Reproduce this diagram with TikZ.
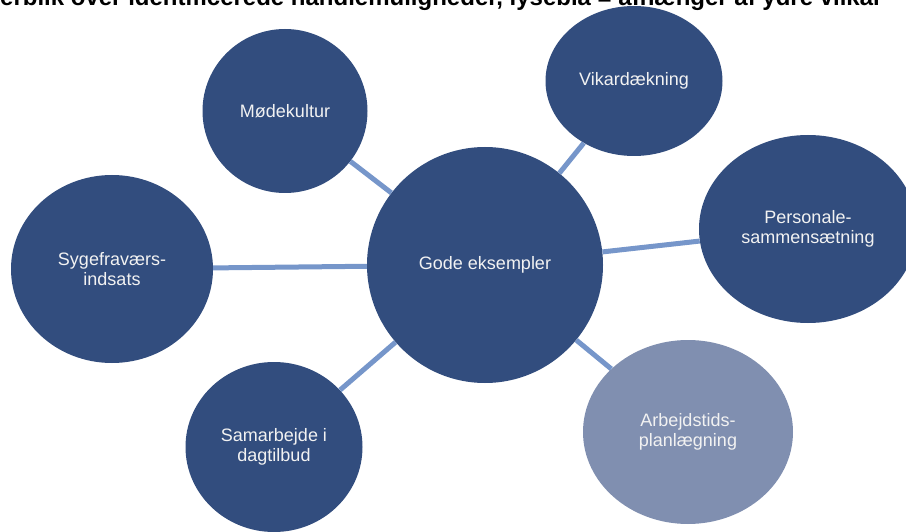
\documentclass[tikz,border=0pt]{standalone}
\usepackage{fontspec}
\setmainfont{Liberation Sans}
\usepackage{tikz}
\usetikzlibrary{shapes.geometric,positioning}
\usepackage{xcolor}
\definecolor{darkbubble}{RGB}{50,77,126}
\definecolor{lightbubble}{RGB}{128,143,176}
\definecolor{linkblue}{RGB}{118,150,202}
\definecolor{bubbletext}{RGB}{242,242,242}

\begin{document}
\begin{tikzpicture}[x=1pt,y=-1pt,
    bubble/.style={ellipse,fill=darkbubble,inner sep=0pt,align=center,
        text=bubbletext,font=\fontsize{18}{20}\selectfont},
    link/.style={linkblue,line width=5pt}]
    \useasboundingbox (0,0) rectangle (906,532);
    \clip (0,0) rectangle (906,532);

    % Title (cut off at the top)
    \node[anchor=base west,inner sep=0pt,font=\fontsize{24}{27}\selectfont\bfseries] (title) at (-32,6)
        {Overblik over identificerede handlemuligheder, lyseblå = afhænger af ydre vilkår};

    % Centre
    \node[bubble,minimum width=236pt,minimum height=236pt] (gode) at (485,265) {Gode eksempler};

    % Surrounding bubbles
    \node[bubble,minimum width=165pt,minimum height=164pt] (mode) at (285,111) {Mødekultur};
    \node[bubble,minimum width=177pt,minimum height=150pt] (vikar) at (634,81) {Vikardækning};
    \node[bubble,minimum width=202pt,minimum height=188pt] (syge) at (112,269) {Sygefraværs-\\indsats};
    \node[bubble,minimum width=218pt,minimum height=188pt] (personale) at (808,229) {Personale-\\sammensætning};
    \node[bubble,minimum width=177pt,minimum height=170pt] (samarbejde) at (274,447) {Samarbejde i\\dagtilbud};
    \node[bubble,fill=lightbubble,minimum width=210pt,minimum height=184pt] (arbejd) at (688,432) {Arbejdstids-\\planlægning};

    % Links
    \draw[link] (gode) -- (mode);
    \draw[link] (gode) -- (vikar);
    \draw[link] (gode) -- (syge);
    \draw[link] (gode) -- (personale);
    \draw[link] (gode) -- (samarbejde);
    \draw[link] (gode) -- (arbejd);
\end{tikzpicture}
\end{document}
